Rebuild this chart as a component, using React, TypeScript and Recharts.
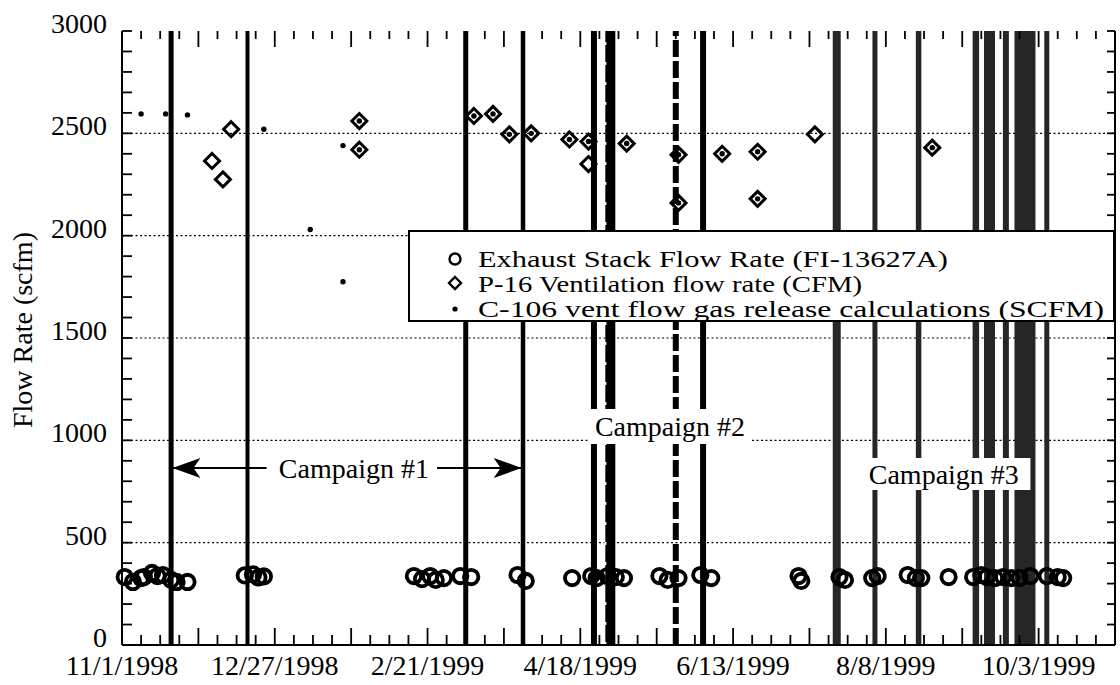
import React from 'react';
import {
  ScatterChart,
  Scatter,
  XAxis,
  YAxis,
  ReferenceLine,
  ReferenceArea,
  ReferenceDot,
} from 'recharts';

const FONT = '"Liberation Serif", "Times New Roman", Times, serif';

// Day 0 of the time axis
const START_DATE = '1998-11-01';
const END_DAY = 364;

const tickDates = ['1998-11-01', '1998-12-27', '1999-02-21', '1999-04-18', '1999-06-13', '1999-08-08', '1999-10-03'];
const tickLabels = ['11/1/1998', '12/27/1998', '2/21/1999', '4/18/1999', '6/13/1999', '8/8/1999', '10/3/1999'];

const yMajorTicks = [0, 500, 1000, 1500, 2000, 2500, 3000];
const gridValues = [500, 1000, 1500, 2000, 2500];

// Exhaust Stack Flow Rate (FI-13627A)
const exhaustDates = [
  '1998-11-02', '1998-11-05', '1998-11-08', '1998-11-09', '1998-11-12', '1998-11-14', '1998-11-16', '1998-11-19', '1998-11-21', '1998-11-25',
  '1998-12-16', '1998-12-19', '1998-12-21', '1998-12-23',
  '1999-02-16', '1999-02-19', '1999-02-22', '1999-02-24', '1999-02-27',
  '1999-03-05', '1999-03-09',
  '1999-03-26', '1999-03-29',
  '1999-04-15',
  '1999-04-22', '1999-04-24', '1999-04-28', '1999-05-01', '1999-05-04',
  '1999-05-17', '1999-05-20', '1999-05-24',
  '1999-06-01', '1999-06-05',
  '1999-07-07', '1999-07-08',
  '1999-07-22', '1999-07-24',
  '1999-08-03', '1999-08-05',
  '1999-08-16', '1999-08-19', '1999-08-21',
  '1999-08-31',
  '1999-09-09', '1999-09-12', '1999-09-14', '1999-09-17', '1999-09-20', '1999-09-23', '1999-09-26', '1999-09-30',
  '1999-10-06', '1999-10-10', '1999-10-12',
];
const exhaustValues = [
  332, 308, 327, 332, 352, 337, 342, 318, 308, 308,
  340, 345, 330, 335,
  337, 322, 337, 318, 327,
  337, 332,
  342, 313,
  327,
  337, 327, 337, 332, 327,
  337, 318, 327,
  342, 327,
  337, 313,
  332, 318,
  327, 337,
  342, 327, 327,
  332,
  332, 342, 332, 327, 332, 327, 327, 337,
  337, 332, 327,
];

// P-16 Ventilation flow rate (CFM)
const ventDates = [
  '1998-12-04', '1998-12-08', '1998-12-11', '1999-01-27', '1999-01-27',
  '1999-03-10', '1999-03-17', '1999-03-23', '1999-03-31', '1999-04-14',
  '1999-04-21', '1999-04-21', '1999-05-05', '1999-05-24', '1999-05-24',
  '1999-06-09', '1999-06-22', '1999-06-22', '1999-07-13', '1999-08-25',
];
const ventValues = [
  2365, 2275, 2520, 2560, 2420,
  2585, 2595, 2495, 2500, 2470,
  2460, 2350, 2450, 2395, 2160,
  2400, 2410, 2180, 2495, 2430,
];

// C-106 vent flow gas release calculations (SCFM)
const c106Dates = [
  '1998-11-08', '1998-11-17', '1998-11-25', '1998-12-23', '1999-01-09', '1999-01-21', '1999-01-21',
  '1999-01-27', '1999-01-27', '1999-03-10', '1999-03-17', '1999-03-23', '1999-03-31', '1999-04-14',
  '1999-04-21', '1999-05-05', '1999-05-24', '1999-05-24', '1999-06-09', '1999-06-22', '1999-06-22',
  '1999-08-25',
];
const c106Values = [
  2595, 2595, 2590, 2520, 2030, 2440, 1775,
  2560, 2420, 2585, 2595, 2495, 2500, 2470,
  2460, 2450, 2395, 2160, 2400, 2410, 2180,
  2430,
];

// Event markers (vertical lines)
const eventDates = [
  '1998-11-19', '1998-12-17', '1999-03-07', '1999-03-28', '1999-04-23', '1999-04-29', '1999-05-23', '1999-06-02',
  '1999-07-21', '1999-08-04', '1999-08-20', '1999-09-10', '1999-09-15', '1999-09-21', '1999-09-28', '1999-10-06',
];

const legendLabels = [
  'Exhaust Stack Flow Rate (FI-13627A)',
  'P-16 Ventilation flow rate (CFM)',
  'C-106 vent flow gas release calculations (SCFM)',
];

// Drawing styles for the event markers, one per date above
const eventStyles: { w: number; color: string; dash?: string; notch?: boolean }[] = [
  { w: 5, color: '#000' },
  { w: 4, color: '#000' },
  { w: 5, color: '#000' },
  { w: 4.5, color: '#000' },
  { w: 6, color: '#000' },
  { w: 10, color: '#000', notch: true },
  { w: 6, color: '#000', dash: '17 4' },
  { w: 6, color: '#000' },
  { w: 8, color: '#262626' },
  { w: 5, color: '#262626' },
  { w: 5.5, color: '#262626' },
  { w: 6.5, color: '#262626' },
  { w: 11, color: '#262626' },
  { w: 6, color: '#262626' },
  { w: 21, color: '#262626' },
  { w: 5, color: '#262626' },
];

const dayOf = (iso: string): number => {
  const [y, m, d] = iso.split('-').map(Number);
  const [y0, m0, d0] = START_DATE.split('-').map(Number);
  return Math.round((Date.UTC(y, m - 1, d) - Date.UTC(y0, m0 - 1, d0)) / 86400000);
};

const toPoints = (dates: string[], values: number[]) =>
  dates.map((d, i) => ({ day: dayOf(d), value: values[i] }));

const exhaustData = toPoints(exhaustDates, exhaustValues);
const ventData = toPoints(ventDates, ventValues);
const c106Data = toPoints(c106Dates, c106Values);
const tickDays = tickDates.map(dayOf);

// Weekly ticks on the time axis, every 100 scfm on the flow axis
const weekTicks: number[] = [];
for (let d = 0; d <= END_DAY; d += 7) weekTicks.push(d);
const yTicks: number[] = [];
for (let v = 0; v <= 3000; v += 100) yTicks.push(v);

// Anchor points for the inward tick marks on the frame
const bottomTickPts = weekTicks.map((d) => ({ day: d, value: 0 }));
const topTickPts = weekTicks.map((d) => ({ day: d, value: 3000 }));
const leftTickPts = yTicks.map((v) => ({ day: 0, value: v }));
const rightTickPts = yTicks.map((v) => ({ day: END_DAY, value: v }));

const BottomLabel = (props: any) => {
  const { x, y, payload } = props;
  const idx = tickDays.indexOf(payload.value as number);
  if (idx < 0) return <g />;
  return (
    <text x={x} y={y + 30} textAnchor="middle" fontSize={28} fontFamily={FONT} fill="#000">
      {tickLabels[idx]}
    </text>
  );
};

const LeftLabel = (props: any) => {
  const { x, y, payload } = props;
  const v = payload.value as number;
  if (!yMajorTicks.includes(v)) return <g />;
  return (
    <text x={x - 15} y={y + 2} textAnchor="end" fontSize={28} fontFamily={FONT} fill="#000">
      {v}
    </text>
  );
};

const TK = 1.8;
const BottomMark = (p: any) => {
  const tall = p.payload.day % 28 === 0;
  return <line x1={p.cx} x2={p.cx} y1={p.cy} y2={p.cy - (tall ? 17 : 10)} stroke="#000" strokeWidth={TK} />;
};
const TopMark = (p: any) => {
  const tall = p.payload.day % 28 === 0;
  return <line x1={p.cx} x2={p.cx} y1={p.cy} y2={p.cy + (tall ? 16 : 8)} stroke="#000" strokeWidth={TK} />;
};
const LeftMark = (p: any) => (
  <line x1={p.cx} x2={p.cx + 10} y1={p.cy} y2={p.cy} stroke="#000" strokeWidth={TK} />
);
const RightMark = (p: any) => (
  <line x1={p.cx} x2={p.cx - 8} y1={p.cy} y2={p.cy} stroke="#000" strokeWidth={TK} />
);

const CircleMark = (p: any) => (
  <circle cx={p.cx} cy={p.cy} r={7.2} fill="none" stroke="#000" strokeWidth={3.8} />
);
const DiamondMark = (p: any) => {
  const s = 7.5;
  return (
    <polygon
      points={`${p.cx},${p.cy - s} ${p.cx + s},${p.cy} ${p.cx},${p.cy + s} ${p.cx - s},${p.cy}`}
      fill="none"
      stroke="#000"
      strokeWidth={3}
    />
  );
};
const DotMark = (p: any) => <circle cx={p.cx} cy={p.cy} r={2.7} fill="#000" />;

const ArrowLeft = (p: any) => (
  <polygon
    points={`${p.cx},${p.cy} ${p.cx + 28},${p.cy - 10} ${p.cx + 21},${p.cy} ${p.cx + 28},${p.cy + 10}`}
    fill="#000"
  />
);
const ArrowRight = (p: any) => (
  <polygon
    points={`${p.cx},${p.cy} ${p.cx - 28},${p.cy - 10} ${p.cx - 21},${p.cy} ${p.cx - 28},${p.cy + 10}`}
    fill="#000"
  />
);

const YTitle = (props: any) => {
  const vb = props && props.viewBox ? props.viewBox : { x: 0, y: 31, width: 122, height: 614 };
  const cx = vb.x + 22;
  const cy = vb.y + vb.height / 2 - 8;
  return (
    <text
      transform={`translate(${cx}, ${cy}) rotate(-90)`}
      textAnchor="middle"
      dominantBaseline="central"
      fontSize={28}
      fontFamily={FONT}
      fill="#000"
    >
      Flow Rate (scfm)
    </text>
  );
};

const campaignLabel = (value: string) => ({
  value,
  position: 'center' as const,
  fontSize: 28,
  fontFamily: FONT,
  fill: '#000',
});

const legendTextWidths = [470, 384, 626];

const Legend = () => (
  <svg
    width={707}
    height={92}
    style={{ position: 'absolute', left: 408, top: 230, overflow: 'visible' }}
  >
    <rect x={1} y={1} width={705} height={90} fill="#fff" stroke="#000" strokeWidth={2} />
    <circle cx={47} cy={29} r={5.5} fill="none" stroke="#000" strokeWidth={2.4} />
    <polygon points="47,47 53,53 47,59 41,53" fill="none" stroke="#000" strokeWidth={2.4} />
    <circle cx={47} cy={79} r={2.6} fill="#000" />
    {legendLabels.map((t, i) => (
      <text
        key={t}
        x={70}
        y={37 + i * 25}
        fontSize={22.5}
        fontFamily={FONT}
        fill="#000"
        textLength={legendTextWidths[i]}
        lengthAdjust="spacingAndGlyphs"
      >
        {t}
      </text>
    ))}
  </svg>
);

const axisLine = { stroke: '#000', strokeWidth: 2 };

export default function App() {
  return (
    <div style={{ position: 'absolute', left: 0, top: 0, width: 1120, height: 685, background: '#fff' }}>
      <ScatterChart width={1120} height={685} margin={{ top: 31, right: 0, bottom: 0, left: 0 }}>
        <XAxis
          xAxisId={0}
          type="number"
          dataKey="day"
          domain={[0, END_DAY]}
          ticks={weekTicks}
          interval={0}
          height={40}
          tickSize={0}
          tickMargin={0}
          tickLine={false}
          axisLine={axisLine}
          tick={BottomLabel}
        />
        <XAxis
          xAxisId="top"
          orientation="top"
          type="number"
          dataKey="day"
          domain={[0, END_DAY]}
          ticks={weekTicks}
          interval={0}
          height={0}
          tickSize={0}
          tickMargin={0}
          tickLine={false}
          axisLine={axisLine}
          tick={false}
        />
        <YAxis
          yAxisId={0}
          type="number"
          dataKey="value"
          domain={[0, 3000]}
          ticks={yTicks}
          interval={0}
          width={122}
          tickSize={0}
          tickMargin={0}
          tickLine={false}
          axisLine={axisLine}
          tick={LeftLabel}
          label={YTitle}
        />
        <YAxis
          yAxisId="right"
          orientation="right"
          type="number"
          dataKey="value"
          domain={[0, 3000]}
          ticks={yTicks}
          interval={0}
          width={5}
          tickSize={0}
          tickMargin={0}
          tickLine={false}
          axisLine={axisLine}
          tick={false}
        />

        {gridValues.map((v) => (
          <ReferenceLine key={`g${v}`} y={v} stroke="#000" strokeWidth={1.2} strokeDasharray="2 2.5" zIndex={5} />
        ))}

        {eventDates.map((d, i) => {
          const s = eventStyles[i];
          return (
            <ReferenceLine
              key={`e${d}`}
              x={dayOf(d)}
              stroke={s.color}
              strokeWidth={s.w}
              strokeDasharray={s.dash}
              zIndex={10}
            />
          );
        })}
        {eventDates.map((d, i) =>
          eventStyles[i].notch ? (
            <ReferenceLine
              key={`n${d}`}
              x={dayOf(d) - 1.8}
              stroke="#fff"
              strokeWidth={2}
              strokeDasharray="3 17"
              zIndex={11}
            />
          ) : null
        )}

        <ReferenceLine
          segment={[{ x: 18.5, y: 865 }, { x: 53, y: 865 }]}
          stroke="#000"
          strokeWidth={2}
          zIndex={700}
        />
        <ReferenceLine
          segment={[{ x: 115.5, y: 865 }, { x: 146.5, y: 865 }]}
          stroke="#000"
          strokeWidth={2}
          zIndex={700}
        />
        <ReferenceDot x={18.5} y={865} shape={ArrowLeft} zIndex={700} />
        <ReferenceDot x={146.5} y={865} shape={ArrowRight} zIndex={700} />
        <ReferenceArea x1={57} x2={113} y1={800} y2={930} fill="none" stroke="none" label={campaignLabel('Campaign #1')} zIndex={700} />
        <ReferenceArea
          x1={170.8}
          x2={230.9}
          y1={982}
          y2={1153}
          fill="#fff"
          fillOpacity={1}
          stroke="none"
          label={campaignLabel('Campaign #2')}
          zIndex={700}
        />
        <ReferenceArea
          x1={269.5}
          x2={333}
          y1={757}
          y2={914}
          fill="#fff"
          fillOpacity={1}
          stroke="none"
          label={campaignLabel('Campaign #3')}
          zIndex={700}
        />

        <Scatter name="bottom ticks" data={bottomTickPts} shape={BottomMark} isAnimationActive={false} legendType="none" />
        <Scatter name="top ticks" data={topTickPts} shape={TopMark} isAnimationActive={false} legendType="none" />
        <Scatter name="left ticks" data={leftTickPts} shape={LeftMark} isAnimationActive={false} legendType="none" />
        <Scatter name="right ticks" data={rightTickPts} shape={RightMark} isAnimationActive={false} legendType="none" />

        <Scatter name="Exhaust Stack Flow Rate (FI-13627A)" data={exhaustData} shape={CircleMark} isAnimationActive={false} />
        <Scatter name="P-16 Ventilation flow rate (CFM)" data={ventData} shape={DiamondMark} isAnimationActive={false} />
        <Scatter name="C-106 vent flow gas release calculations (SCFM)" data={c106Data} shape={DotMark} isAnimationActive={false} />
      </ScatterChart>
      <Legend />
    </div>
  );
}
